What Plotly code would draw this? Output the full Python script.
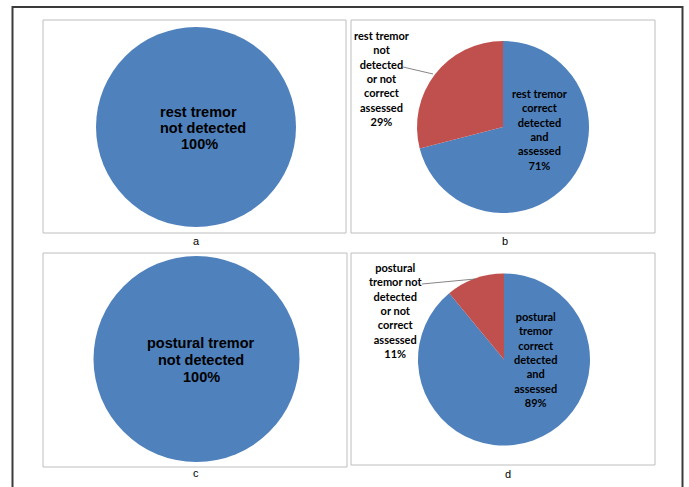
import plotly.graph_objects as go

W, H = 689, 487

# ---- data ----
labels_a = ["rest tremor not detected"]
values_a = [100]
labels_b = ["rest tremor correct detected and assessed",
            "rest tremor not detected or not correct assessed"]
values_b = [71, 29]
labels_c = ["postural tremor not detected"]
values_c = [100]
labels_d = ["postural tremor correct detected and assessed",
            "postural tremor not detected or not correct assessed"]
values_d = [89, 11]
panel_letters = ["a", "b", "c", "d"]

# wrapped text lines of the data labels (as in the source chart)
wrap_a = ["rest tremor", "not detected"]
wrap_c = ["postural tremor", "not detected"]
wrap_b = [["rest tremor", "correct", "detected", "and", "assessed"],
          ["rest tremor", "not", "detected", "or not", "correct", "assessed"]]
wrap_d = [["postural", "tremor", "correct", "detected", "and", "assessed"],
          ["postural", "tremor not", "detected", "or not", "correct", "assessed"]]

BLUE, RED = "#4F81BD", "#C0504D"


def px(x):
    return x / W


def py(y):
    return 1 - y / H


def pct(vals):
    t = sum(vals)
    return [round(100 * v / t) for v in vals]


def dom(cx, cy, r):
    return dict(x=[px(cx - r), px(cx + r)], y=[py(cy + r), py(cy - r)])


fig = go.Figure()
pies = [(labels_a, values_a, (196, 127, 100)),
        (labels_b, values_b, (503, 127, 86)),
        (labels_c, values_c, (196.5, 359, 103)),
        (labels_d, values_d, (504, 359.5, 86))]
for labs, vals, (cx, cy, r) in pies:
    fig.add_trace(go.Pie(labels=labs, values=vals, sort=False,
                         direction="clockwise", rotation=0,
                         textinfo="none", showlegend=False,
                         marker=dict(colors=[BLUE, RED][:len(vals)],
                                     line=dict(width=0)),
                         domain=dom(cx, cy, r)))

shapes = []
# outer frame
shapes.append(dict(type="rect", xref="paper", yref="paper",
                   x0=px(12.5), x1=px(682.5), y0=py(7), y1=py(520),
                   line=dict(color="#3a3a3a", width=2)))
# panel boxes
for (x0, y0, x1, y1) in [(43, 20, 346, 233), (351, 20, 655, 233),
                         (43, 253, 347, 467), (351, 253, 655, 465)]:
    shapes.append(dict(type="rect", xref="paper", yref="paper",
                       x0=px(x0), x1=px(x1), y0=py(y0), y1=py(y1),
                       line=dict(color="#BEBEBE", width=1)))
# leader lines
for (x0, y0, x1, y1) in [(403, 67, 433, 74), (422, 284, 475, 279)]:
    shapes.append(dict(type="line", xref="paper", yref="paper",
                       x0=px(x0), x1=px(x1), y0=py(y0), y1=py(y1),
                       line=dict(color="#666666", width=0.8)))

ann = []


def add(text, x, y, size, family, xanchor="center", align="center"):
    ann.append(dict(text=text, x=px(x), y=py(y), xref="paper", yref="paper",
                    showarrow=False, xanchor=xanchor, yanchor="middle",
                    align=align,
                    font=dict(size=size, family=family, color="black")))


BIG = "Liberation Sans, Arial, sans-serif"
SMALL = "Lato, Carlito, Calibri, sans-serif"

# pie a text (left aligned block)
pa = pct(values_a)
add("<b>" + wrap_a[0] + "</b>", 158, 112, 14.5, BIG, "left")
add("<b>" + wrap_a[1] + "</b>", 158, 128, 14.5, BIG, "left")
add("<b>%d%%</b>" % pa[0], 179, 144, 14.5, BIG, "left")

# pie c text (centered)
pc = pct(values_c)
add("<b>" + wrap_c[0] + "</b>", 201, 343, 14.5, BIG)
add("<b>" + wrap_c[1] + "</b>", 201, 360, 14.5, BIG)
add("<b>%d%%</b>" % pc[0], 201, 377, 14.5, BIG)

# pie b labels
pb = pct(values_b)
add("<b>" + "<br>".join(wrap_b[0] + ["%d%%" % pb[0]]) + "</b>", 540, 129.5, 11, SMALL)
add("<b>" + "<br>".join(wrap_b[1] + ["%d%%" % pb[1]]) + "</b>", 382, 78, 11, SMALL)

# pie d labels
pd_ = pct(values_d)
add("<b>" + "<br>".join(wrap_d[0] + ["%d%%" % pd_[0]]) + "</b>", 535, 359.5, 11, SMALL)
add("<b>" + "<br>".join(wrap_d[1] + ["%d%%" % pd_[1]]) + "</b>", 395, 310.5, 11, SMALL)

# panel letters
for letter, (x, y) in zip(panel_letters, [(196, 241), (505, 241), (196, 473), (508, 474)]):
    add(letter, x, y, 11, BIG)

fig.update_layout(width=W, height=H, margin=dict(l=0, r=0, t=0, b=0),
                  paper_bgcolor="white", plot_bgcolor="white",
                  shapes=shapes, annotations=ann)

fig.write_html("out.html",
               config={"displayModeBar": False},
               post_script="document.body.style.margin='0';"
                           "document.body.style.overflow='hidden';")
